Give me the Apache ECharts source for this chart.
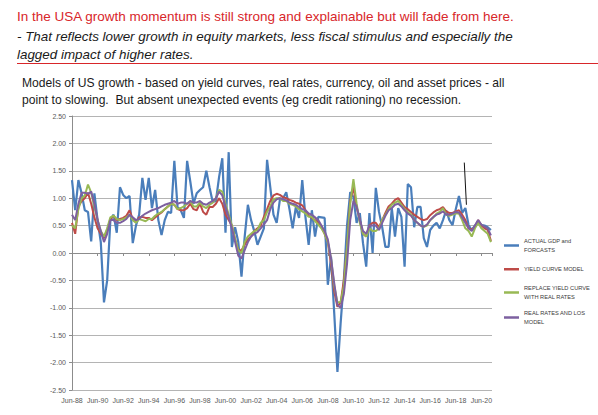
<!DOCTYPE html>
<html><head><meta charset="utf-8">
<script src="https://cdn.jsdelivr.net/npm/echarts@6/dist/echarts.min.js"></script>
<style>html,body{margin:0;padding:0;background:#fff}#c{width:598px;height:415px}</style>
</head><body><div id="c"></div>
<script>
// Quarterly observations, first point = Jun-88, one point every 3 months
const monthsPerPoint = 3;
const xTickLabels = ['Jun-88','Jun-90','Jun-92','Jun-94','Jun-96','Jun-98','Jun-00','Jun-02','Jun-04','Jun-06','Jun-08','Jun-10','Jun-12','Jun-14','Jun-16','Jun-18','Jun-20'];
const monthsPerTick = 24;
const yMin = -2.5, yMax = 2.5, yStep = 0.5;
const seriesNames = ['ACTUAL GDP and FORCASTS','YIELD CURVE MODEL','REPLACE YIELD CURVE WITH REAL RATES','REAL RATES AND LOS MODEL'];
const legendLabels = ['ACTUAL GDP and\nFORCASTS','YIELD CURVE MODEL','REPLACE YIELD CURVE\nWITH REAL RATES','REAL RATES AND LOS\nMODEL'];

const actualGdp = [
 1.33,0.78,1.33,1.09,0.78,0.75,0.21,1.09,0.6,0.2,
 -0.9,-0.5,0.6,0.7,0.37,1.2,1.06,1.0,1.04,0.18,
 0.5,0.7,1.37,0.97,1.37,0.82,1.15,0.6,0.33,0.6,
 0.75,0.73,1.68,0.84,0.78,0.64,1.68,1.3,0.9,1.09,
 1.15,1.2,1.5,1.2,0.93,0.95,1.39,1.73,0.37,1.84,
 0.11,0.47,0.2,-0.43,0.3,0.88,0.6,0.4,0.15,0.3,
 0.45,1.7,1.2,0.7,0.55,0.97,1.0,1.11,0.8,0.45,
 0.84,0.64,1.33,0.66,0.15,0.78,0.3,0.66,0.65,0.64,
 -0.58,-0.07,-1.1,-2.17,-1.28,-0.5,0.5,1.11,1.02,0.55,
 0.73,0.18,-0.25,0.73,0.0,1.19,0.75,0.47,0.11,0.11,
 0.82,0.3,0.82,0.66,-0.25,1.26,1.2,0.47,0.84,0.84,
 0.27,0.11,0.42,0.5,0.55,0.45,0.6,0.78,0.6,0.51,
 0.8,1.04,0.73,0.82,0.51,0.42,0.5,0.57,0.51,0.5,0.47,0.42
];
const yieldCurveModel = [
 0.55,0.35,0.85,0.95,1.0,1.1,0.9,0.65,0.45,0.35,
 0.27,0.42,0.62,0.68,0.6,0.62,0.64,0.68,0.78,0.62,
 0.57,0.65,0.66,0.64,0.64,0.6,0.65,0.7,0.74,0.8,
 0.85,0.9,0.88,0.8,0.78,0.78,0.82,0.9,0.8,0.78,
 0.9,0.75,0.7,0.84,0.84,0.9,1.0,0.9,0.7,0.6,
 0.5,0.25,0.05,0.05,0.15,0.25,0.3,0.4,0.45,0.5,
 0.66,0.8,0.95,1.05,1.08,1.06,1.02,1.0,0.97,0.95,
 0.92,0.9,0.87,0.78,0.68,0.64,0.6,0.55,0.47,0.35,
 0.2,-0.2,-0.7,-0.98,-0.9,-0.5,0.1,0.95,1.2,0.84,
 0.6,0.35,0.3,0.5,0.55,0.55,0.47,0.6,0.73,0.85,
 0.9,0.97,1.0,0.92,0.84,0.8,0.75,0.7,0.66,0.62,
 0.6,0.62,0.69,0.74,0.78,0.8,0.84,0.76,0.73,0.73,
 0.76,0.78,0.7,0.6,0.45,0.43,0.48,0.6,0.5,0.45,0.42,0.22
];
const realRatesModel = [
 0.5,0.45,0.8,1.0,1.05,1.25,1.1,0.85,0.6,0.4,
 0.3,0.45,0.65,0.68,0.62,0.6,0.62,0.65,0.7,0.6,
 0.55,0.62,0.6,0.58,0.62,0.62,0.68,0.72,0.75,0.8,
 0.85,0.9,0.88,0.8,0.82,0.85,0.9,0.95,0.85,0.85,
 0.92,0.85,0.82,0.88,0.92,1.0,1.15,1.12,0.9,0.7,
 0.5,0.25,0.05,0.0,0.2,0.3,0.35,0.4,0.42,0.55,
 0.6,0.75,0.85,0.98,1.0,1.0,0.95,0.95,0.9,0.88,
 0.85,0.8,0.76,0.72,0.66,0.66,0.58,0.52,0.45,0.35,
 0.2,-0.1,-0.6,-0.9,-0.9,-0.6,0.1,0.9,1.35,0.9,
 0.55,0.35,0.3,0.45,0.4,0.4,0.45,0.6,0.7,0.8,
 0.88,0.92,0.95,0.88,0.8,0.75,0.7,0.6,0.55,0.5,
 0.48,0.5,0.6,0.65,0.72,0.75,0.82,0.7,0.68,0.7,
 0.72,0.72,0.6,0.45,0.4,0.3,0.45,0.55,0.45,0.4,0.35,0.2
];
const realRatesLosModel = [
 0.7,0.6,0.9,1.1,1.1,1.08,1.12,0.9,0.6,0.4,
 0.2,0.35,0.6,0.6,0.55,0.55,0.58,0.62,0.7,0.65,
 0.6,0.62,0.68,0.72,0.75,0.78,0.8,0.82,0.85,0.88,
 0.9,0.92,0.95,0.9,0.92,0.92,0.9,0.95,0.92,0.92,
 0.95,0.9,0.88,0.92,0.95,1.0,1.12,1.05,0.85,0.65,
 0.45,0.2,-0.05,-0.1,0.05,0.2,0.3,0.35,0.38,0.45,
 0.52,0.6,0.8,0.92,0.98,1.0,0.98,0.96,0.92,0.9,
 0.88,0.84,0.8,0.78,0.72,0.7,0.65,0.6,0.5,0.4,
 0.25,-0.1,-0.55,-0.95,-1.0,-0.75,-0.2,0.6,0.95,0.85,
 0.6,0.4,0.35,0.5,0.5,0.5,0.42,0.55,0.68,0.78,
 0.82,0.88,0.9,0.85,0.78,0.72,0.68,0.6,0.55,0.5,
 0.48,0.52,0.6,0.66,0.7,0.72,0.76,0.7,0.7,0.72,
 0.75,0.74,0.65,0.55,0.45,0.4,0.5,0.6,0.52,0.48,0.45,0.32
];
// hand-drawn annotation stroke near 2018 (data coordinates: month index, value)
const annotationStroke = [[368, 1.65], [370, 0.88]];
const xMaxMonths = 394;

const colors = ['#4a7ebb', '#be4b48', '#98b954', '#7d60a0'];
const allSeries = [actualGdp, yieldCurveModel, realRatesModel, realRatesLosModel];

const toXY = arr => arr.map((v, i) => [i * monthsPerPoint, v]);

const chart = echarts.init(document.getElementById('c'), null, {renderer: 'svg'});
const legendTops = [233, 265, 280, 305];
const legendPad = [[8,0,0,0], [0,0,0,0], [8,0,0,0], [8,0,0,0]];

const option = {
  animation: false,
  backgroundColor: '#fff',
  title: [
    {text: 'In the USA growth momentum is still strong and explainable but will fade from here.',
     left: 17, top: 9.5, padding: 0,
     textStyle: {fontFamily: 'Liberation Sans', fontSize: 13.5, fontWeight: 'normal', color: '#d8262a'}},
    {text: '- That reflects lower growth in equity markets, less fiscal stimulus and especially the\nlagged impact of higher rates.',
     left: 17, top: 27, padding: 0,
     textStyle: {fontFamily: 'Liberation Sans', fontSize: 13.4, fontStyle: 'italic', fontWeight: 'normal', color: '#1a1a1a', lineHeight: 18.5}},
    {text: 'Models of US growth - based on yield curves, real rates, currency, oil and asset prices - all\npoint to slowing.  But absent unexpected events (eg credit rationing) no recession.',
     left: 22, top: 75, padding: 0,
     textStyle: {fontFamily: 'Liberation Sans', fontSize: 12.1, fontWeight: 'normal', color: '#1a1a1a', lineHeight: 16.5}}
  ],
  graphic: [
    {type: 'line', shape: {x1: 17, y1: 63.5, x2: 598, y2: 63.5}, style: {stroke: '#d8262a', lineWidth: 1}}
  ],
  legend: seriesNames.map((n, k) => ({
    data: [n], left: 504, top: legendTops[k], padding: 0, orient: 'vertical',
    icon: 'rect', itemWidth: 15, itemHeight: 2.5,
    formatter: () => legendLabels[k],
    textStyle: {fontFamily: 'Liberation Sans', fontSize: 5.7, color: '#3a3a3a', lineHeight: 8.5, padding: legendPad[k]},
    selectedMode: false
  })),
  grid: {left: 72, right: 106, top: 116, bottom: 25},
  xAxis: [
    {type: 'value', min: 0, max: xMaxMonths, interval: monthsPerTick, position: 'bottom',
     axisLine: {show: false, onZero: false}, axisTick: {show: false}, splitLine: {show: false},
     axisLabel: {showMinLabel: true, showMaxLabel: false, margin: 7, fontSize: 7, color: '#595959', fontFamily: 'Liberation Sans',
       formatter: v => xTickLabels[Math.round(v / monthsPerTick)] || ''}},
    {type: 'value', min: 0, max: xMaxMonths, interval: monthsPerTick, position: 'bottom',
     axisLine: {show: true, onZero: true, onZeroAxisIndex: 0, lineStyle: {color: '#8c8c8c', width: 1}},
     axisTick: {show: true, length: 3, lineStyle: {color: '#8c8c8c'}},
     axisLabel: {show: false}, splitLine: {show: false}}
  ],
  yAxis: {
    type: 'value', min: yMin, max: yMax, interval: yStep,
    axisLine: {show: true, onZero: false, lineStyle: {color: '#8c8c8c'}},
    axisTick: {show: true, length: 3, lineStyle: {color: '#8c8c8c'}},
    splitLine: {lineStyle: {color: '#b4b4b4', width: 1}},
    axisLabel: {fontSize: 7, color: '#595959', margin: 6, fontFamily: 'Liberation Sans', formatter: v => v.toFixed(2)}
  },
  series: allSeries.map((arr, k) => ({
    name: seriesNames[k], type: 'line', xAxisIndex: 0, data: toXY(arr),
    showSymbol: false, symbol: 'none', color: colors[k],
    lineStyle: {width: k === 0 ? 2.2 : 2, color: colors[k]},
    z: 2 + k,
    markLine: k === 0 ? {
      silent: true, symbol: 'none', label: {show: false},
      lineStyle: {color: '#111', width: 1, type: 'solid'},
      data: [[{coord: annotationStroke[0]}, {coord: annotationStroke[1]}]]
    } : undefined
  }))
};
chart.setOption(option);
</script></body></html>
